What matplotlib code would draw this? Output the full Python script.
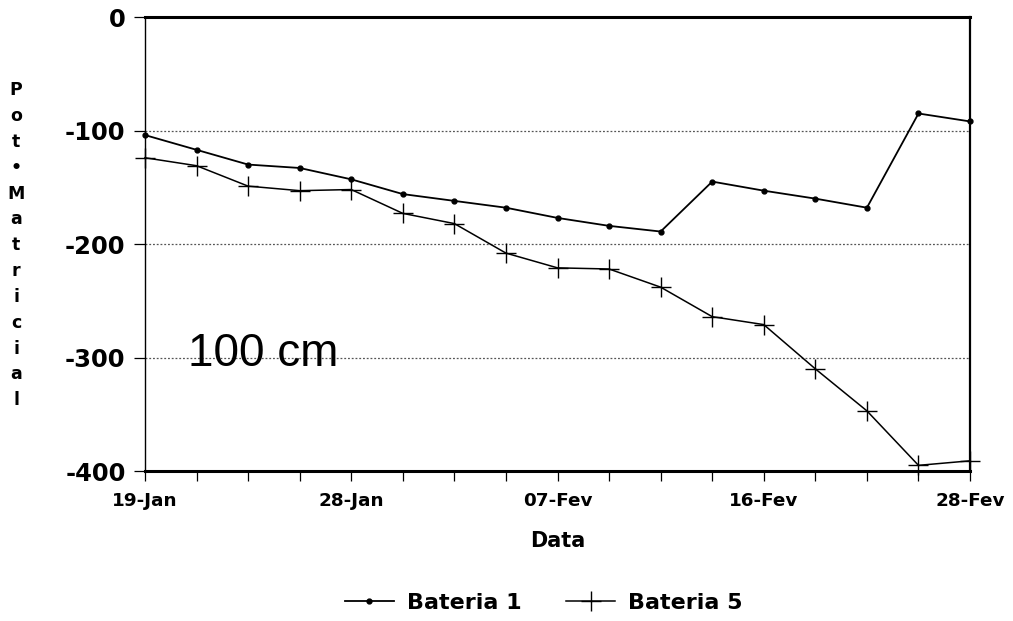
import matplotlib
matplotlib.use("Agg")
import matplotlib.pyplot as plt
import numpy as np

# ---- data ----
n_points = 17
tick_labels = ["19-Jan", "", "", "", "28-Jan", "", "", "", "07-Fev",
               "", "", "", "16-Fev", "", "", "", "28-Fev"]
bateria1 = [-104, -117, -130, -133, -143, -156, -162, -168, -177,
            -184, -189, -145, -153, -160, -168, -85, -92]
bateria5 = [-124, -131, -149, -153, -152, -173, -182, -208, -221,
            -222, -238, -264, -271, -310, -347, -395, -391]
yticks = [0, -100, -200, -300, -400]
ylabel_letters = ["P", "o", "t", "•", "M", "a", "t", "r", "i", "c", "i", "a", "l"]

plt.rcParams['font.family'] = ['DejaVu Sans']

fig = plt.figure(figsize=(10.13, 6.21), dpi=100)
ax = fig.add_axes([0.1431, 0.2415, 0.8145, 0.7311])

x = np.arange(n_points)
l1, = ax.plot(x, bateria1, color='black', lw=1.3, marker='o', ms=3.5,
              label='Bateria 1', clip_on=False)
l5, = ax.plot(x, bateria5, color='black', lw=1.1, marker='+', ms=15,
              mew=1.0, label='Bateria 5', clip_on=False)

ax.set_xlim(0, n_points - 1)
ax.set_ylim(-400, 0)
ax.set_yticks(yticks)
ax.set_yticklabels([str(v) for v in yticks], fontsize=17.5, fontweight='bold')
ax.set_xticks(x)
ax.set_xticklabels(tick_labels, fontsize=13.2, fontweight='bold')
ax.tick_params(axis='x', direction='out', length=7, width=0.9, pad=8)
ax.tick_params(axis='y', direction='out', length=8, width=0.9, pad=6)

for v in yticks[1:-1]:
    ax.axhline(v, color='#555555', lw=0.9, ls=(0, (1.5, 1.5)), zorder=0)

ax.spines['top'].set_linewidth(2.2)
ax.spines['bottom'].set_linewidth(2.2)
ax.spines['left'].set_linewidth(1.0)
ax.spines['right'].set_linewidth(1.6)

ax.set_xlabel('Data', fontsize=15, fontweight='bold', labelpad=15)

ax.text(0.143, 0.258, '100 cm', transform=ax.transAxes, fontsize=33,
        family='Liberation Sans', ha='center', va='center')

fig.text(0.016, 0.605, "\n".join(ylabel_letters), fontsize=12.5, fontweight='bold',
         ha='center', va='center', linespacing=1.56)

leg = fig.legend(handles=[l1, l5], loc='center', bbox_to_anchor=(0.537, 0.029),
                 ncol=2, frameon=False, handlelength=2.2, handletextpad=0.6,
                 columnspacing=2.0, prop={'size': 16, 'weight': 'bold'})

fig.savefig('out.png', dpi=100)
